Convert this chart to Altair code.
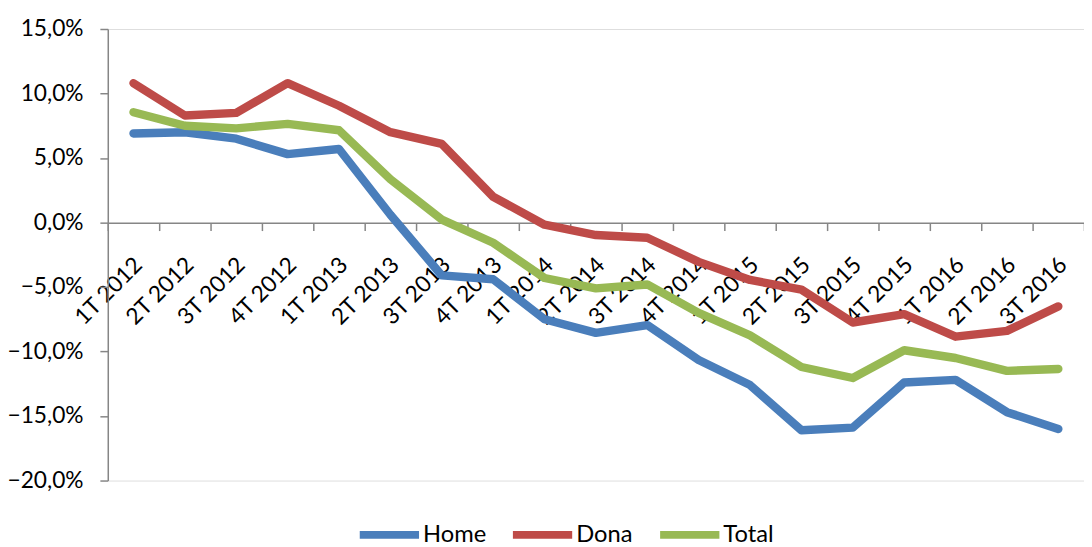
import altair as alt
import pandas as pd

quarters = ["1T 2012", "2T 2012", "3T 2012", "4T 2012", "1T 2013", "2T 2013", "3T 2013",
            "4T 2013", "1T 2014", "2T 2014", "3T 2014", "4T 2014", "1T 2015", "2T 2015",
            "3T 2015", "4T 2015", "1T 2016", "2T 2016", "3T 2016"]
home = [6.9, 7.0, 6.5, 5.3, 5.7, 0.6, -4.1, -4.4, -7.5, -8.55, -7.95, -10.65, -12.6,
        -16.1, -15.9, -12.4, -12.2, -14.7, -16.0]
dona = [10.8, 8.3, 8.5, 10.8, 9.05, 7.0, 6.1, 2.0, -0.17, -0.97, -1.18, -3.05, -4.45,
        -5.2, -7.75, -7.1, -8.85, -8.4, -6.5]
total = [8.55, 7.5, 7.3, 7.65, 7.15, 3.35, 0.23, -1.57, -4.3, -5.1, -4.8, -7.0, -8.75,
         -11.2, -12.05, -9.9, -10.5, -11.5, -11.35]
series = ["Home", "Dona", "Total"]
colors = ["#4A7EBB", "#BE4B48", "#98B954"]

rows = []
for name, vals in zip(series, [home, dona, total]):
    for q, v in zip(quarters, vals):
        rows.append({"q": q, "v": v, "s": name})
df = pd.DataFrame(rows)

FONT = "Lato"

chart = alt.Chart(df).mark_line(
    strokeWidth=8.5, strokeCap="round", strokeJoin="round"
).encode(
    x=alt.X("q:O", sort=quarters, bandPosition=0.5,
            scale=alt.Scale(type="band", paddingInner=0, paddingOuter=0),
            axis=alt.Axis(title=None, orient="bottom", offset=-261, labelAngle=-45,
                          labelAlign="right", labelBaseline="top", labelPadding=23,
                          labelOffset=-3, tickBand="extent", tickSize=8,
                          domainColor="#868686", tickColor="#868686", domainWidth=1.5,
                          tickWidth=1.5, labelFont=FONT, labelFontSize=23,
                          labelColor="black", grid=False, labelOverlap=False)),
    y=alt.Y("v:Q", scale=alt.Scale(domain=[-20, 15], nice=False, zero=False),
            axis=alt.Axis(title=None, values=[-20, -15, -10, -5, 0, 5, 10, 15],
                          labelExpr="replace(format(datum.value, '.1f'), '.', ',') + '%'",
                          tickSize=8, labelPadding=17, domainColor="#868686",
                          tickColor="#868686", domainWidth=1.5, tickWidth=1.5,
                          labelFont=FONT, labelFontSize=23, labelColor="black", grid=False)),
    color=alt.Color("s:N", sort=series,
                    scale=alt.Scale(domain=series, range=colors),
                    legend=alt.Legend(title=None, orient="none", direction="horizontal",
                                      legendX=251, legendY=478, symbolType="stroke",
                                      symbolSize=3600, symbolStrokeWidth=8,
                                      labelFont=FONT, labelFontSize=24, labelColor="black",
                                      labelOffset=0, columnPadding=11, padding=0)),
).properties(
    width=988, height=457,
    autosize=alt.AutoSizeParams(type="none"),
    padding={"left": 101, "top": 18, "right": 0, "bottom": 64},
).configure_view(stroke=None).configure(background="white")

chart.save("out.html", embed_options={"renderer": "svg", "actions": False})
